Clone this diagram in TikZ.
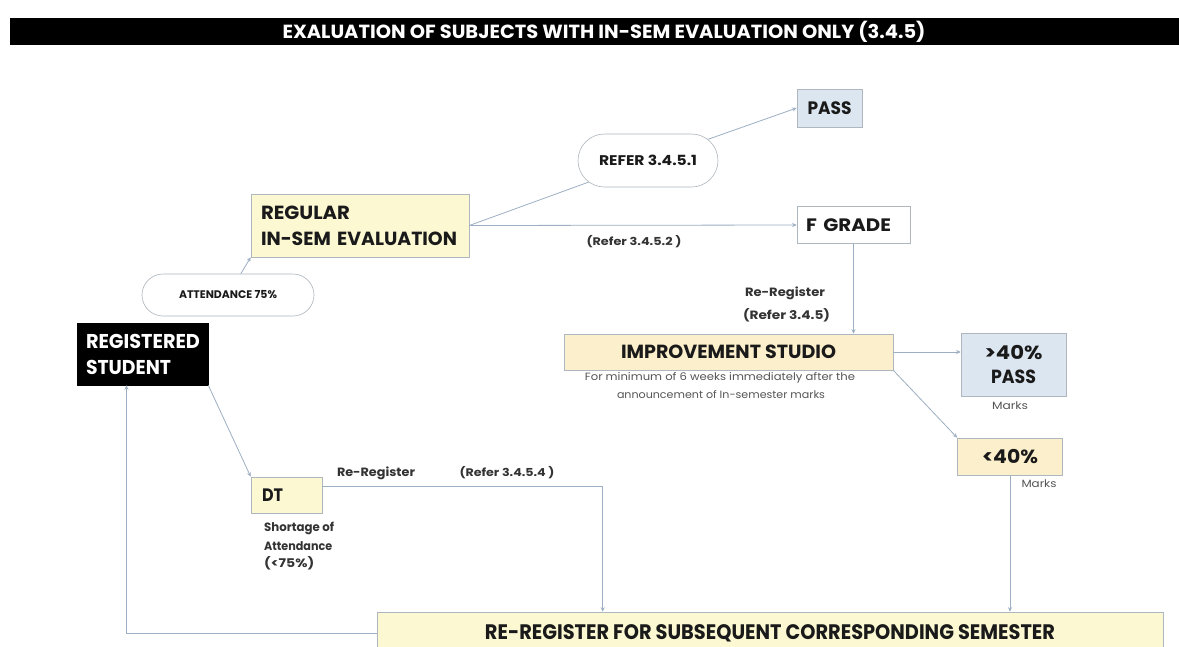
\documentclass[tikz,border=0pt]{standalone}
\usepackage{fontspec}
\setmainfont{Poppins}
\usetikzlibrary{arrows.meta,shapes.misc,calc}
\definecolor{yel}{HTML}{FBF8D2}
\definecolor{org}{HTML}{FCEFCB}
\definecolor{blu}{HTML}{DCE6F1}
\definecolor{bordc}{HTML}{AEB6BE}
\definecolor{linec}{HTML}{9DAFC2}
\definecolor{txt}{HTML}{1A1A1A}
\definecolor{txtb}{HTML}{333333}
\definecolor{txtc}{HTML}{555555}
\newcommand{\fitw}[2]{\resizebox{#1}{\height}{#2}}
\begin{document}
\begin{tikzpicture}[x=1pt,y=-1pt,
  box/.style={draw=bordc, line width=0.6pt, inner sep=0pt, text=txt},
  pill/.style={rounded rectangle, draw=bordc, line width=0.6pt, inner sep=0pt, fill=white, text=txt},
  lbl/.style={inner sep=0pt, text=txtb, font=\bfseries\fontsize{12}{14}\selectfont},
  capt/.style={inner sep=0pt, text=txtc, font=\fontsize{10.5}{12}\selectfont},
  ln/.style={draw=linec, line width=0.8pt},
  arr/.style={draw=linec, line width=0.8pt, -{Stealth[length=4.5pt,width=4pt]}}]
\useasboundingbox (0,0) rectangle (1179,646);
\fill[white] (0,0) rectangle (1179,646);

% title
\node[fill=black, minimum width=1169, minimum height=27, inner sep=0pt, anchor=north west] (bar) at (10,18) {};
\node[inner sep=0pt, text=white, font=\bfseries\fontsize{19}{20}\selectfont] (title) at (604,31.5) {\fitw{643pt}{EXALUATION OF SUBJECTS WITH IN-SEM EVALUATION ONLY (3.4.5)}};

% boxes
\node[box, fill=blu, minimum width=65, minimum height=38, font=\bfseries\fontsize{18}{20}\selectfont] (pass) at (829.5,108) {\fitw{44pt}{PASS}};
\node[pill, minimum width=140, minimum height=53, font=\bfseries\fontsize{14}{16}\selectfont] (refer1) at (648,160.5) {\fitw{98pt}{REFER 3.4.5.1}};
\node[box, fill=yel, minimum width=218, minimum height=63, text width=198pt, inner xsep=10pt, align=left, font=\bfseries\fontsize{19}{26}\selectfont] (regular) at (360,225.5) {\fitw{89pt}{REGULAR}\\\fitw{196pt}{IN-SEM EVALUATION}};
\node[box, fill=white, minimum width=113, minimum height=37, text width=95pt, inner xsep=9pt, align=left, font=\bfseries\fontsize{18}{20}\selectfont] (fgrade) at (853.5,225) {\fitw{85pt}{F GRADE}};
\node[pill, minimum width=172, minimum height=42, font=\bfseries\fontsize{11}{12}\selectfont] (attend) at (228,295) {\fitw{98pt}{ATTENDANCE 75\%}};
\node[box, draw=black, fill=black, text=white, minimum width=131, minimum height=62, text width=113pt, inner xsep=9pt, align=left, font=\bfseries\fontsize{20}{26}\selectfont] (regst) at (142.5,354) {\fitw{114pt}{REGISTERED}\\\fitw{85pt}{STUDENT}};
\node[box, fill=org, minimum width=329, minimum height=36, font=\bfseries\fontsize{19}{22}\selectfont] (impr) at (728.5,352) {\fitw{215pt}{IMPROVEMENT STUDIO}};
\node[box, fill=blu, minimum width=105, minimum height=63, align=center, font=\bfseries\fontsize{19}{24}\selectfont] (gt40) at (1013.5,364.5) {\fitw{58pt}{>40\%}\\\fitw{45pt}{PASS}};
\node[box, fill=org, minimum width=105, minimum height=37, font=\bfseries\fontsize{19}{22}\selectfont] (lt40) at (1010,456.5) {\fitw{56pt}{<40\%}};
\node[box, fill=yel, minimum width=71, minimum height=36, text width=49pt, inner xsep=11pt, align=left, font=\bfseries\fontsize{18}{20}\selectfont] (dt) at (286.5,495) {\fitw{21pt}{DT}};
\node[box, fill=yel, minimum width=786, minimum height=42, font=\bfseries\fontsize{21}{22}\selectfont] (rereg) at (770,633) {\fitw{570pt}{RE-REGISTER FOR SUBSEQUENT CORRESPONDING SEMESTER}};

% labels
\node[lbl, font=\bfseries\fontsize{11}{12}\selectfont] (ref2) at (634,242) {\fitw{95pt}{(Refer 3.4.5.2 )}};
\node[lbl] (rr1) at (785,293) {\fitw{80pt}{Re-Register}};
\node[lbl] (ref5) at (786.5,315) {\fitw{87pt}{(Refer 3.4.5)}};
\node[capt] (cap1) at (720,378) {\fitw{270pt}{For minimum of 6 weeks immediately after the}};
\node[capt] (cap2) at (721,395) {\fitw{208pt}{announcement of In-semester marks}};
\node[capt] (mk1) at (1010,406) {\fitw{36pt}{Marks}};
\node[capt] (mk2) at (1039,484) {\fitw{35pt}{Marks}};
\node[lbl, anchor=west] (sh1) at (264,528) {\fitw{70pt}{Shortage of}};
\node[lbl, anchor=west] (sh2) at (264,546) {\fitw{68pt}{Attendance}};
\node[lbl, anchor=west] (sh3) at (264,563) {\fitw{50pt}{(<75\%)}};
\node[lbl] (rr2) at (376,473) {\fitw{78pt}{Re-Register}};
\node[lbl, font=\bfseries\fontsize{11}{12}\selectfont] (ref4) at (507,473) {\fitw{95pt}{(Refer 3.4.5.4 )}};

% connectors
\draw[ln] (regular.east) -- (refer1);
\draw[arr] (refer1) -- (pass.west);
\draw[arr] (regular.east) -- (fgrade.west);
\draw[arr] (fgrade.south) -- (fgrade.south |- impr.north);
\draw[arr] (attend) -- (regular.south west);
\draw[arr] (regst.south east) -- (dt.north west);
\draw[arr] (dt.14) -| ($(rereg.north west)+(226,0)$);
\draw[arr] (impr.east) -- (impr.east -| gt40.west);
\draw[arr] (impr.south east) -- (lt40.north west);
\draw[arr] (lt40.south) -- (lt40.south |- rereg.north);
\draw[arr] (rereg.west) -| ($(regst.south)+(-16,0)$);
\end{tikzpicture}
\end{document}
